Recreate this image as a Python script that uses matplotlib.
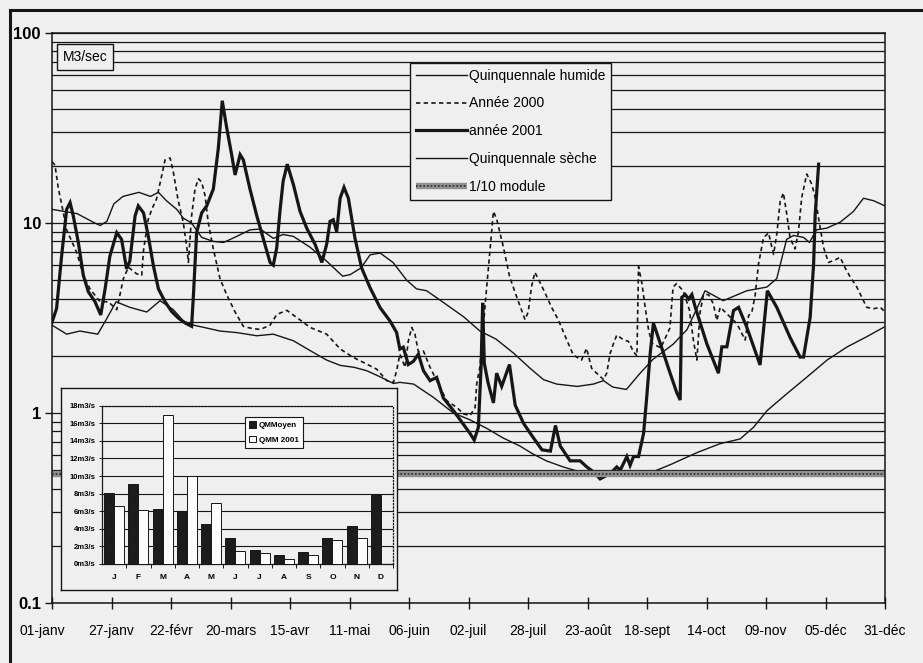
import matplotlib.pyplot as plt
from matplotlib.lines import Line2D
from matplotlib.legend_handler import HandlerTuple
from matplotlib.ticker import LogLocator, NullFormatter
from matplotlib.transforms import ScaledTranslation

plt.rcParams['font.family'] = ['Liberation Sans', 'DejaVu Sans']

PAPER = '#efefef'
INK = '#161616'

# axe des dates (jour de l'annee)
date_pos = [0, 26, 52, 78, 104, 130, 156, 182, 208, 234, 260, 286, 312, 338, 364]
date_labels = ['01-janv', '27-janv', '22-févr', '20-mars', '15-avr', '11-mai', '06-juin',
               '02-juil', '28-juil', '23-août', '18-sept', '14-oct', '09-nov', '05-déc', '31-déc']

# Quinquennale humide
hum_j = [0, 11, 18, 21, 24, 27, 31, 38, 43, 46.5, 50, 54.5, 57.4, 61, 65.4, 70.5, 75, 80.7,
         86.5, 91, 96.7, 101, 105.5, 112.8, 120, 127, 130.3, 135, 139, 143.4, 149, 155, 159.3,
         163.7, 168, 174, 180, 187, 194, 201.6, 208.9, 214.7, 220.5, 229.5, 236.6, 241, 245,
         251, 257, 262.7, 271.4, 277.5, 285.4, 293.3, 303.6, 312.4, 316.7, 321, 324, 328.4,
         331, 334, 338.6, 344.4, 350.2, 354.6, 359, 364]
hum_q = [11.8, 11.2, 10.1, 9.7, 10.2, 12.6, 13.8, 14.5, 13.8, 14.5, 13.1, 11.8, 10.6, 10.0, 8.4, 8.0, 7.9, 8.5,
         9.2, 9.3, 8.3, 8.7, 8.5, 7.45, 6.3, 5.25, 5.35, 5.8, 6.8, 6.95, 6.2, 5.0, 4.5,
         4.4, 4.05, 3.6, 3.2, 2.7, 2.45, 2.07, 1.72, 1.5, 1.42, 1.38, 1.42, 1.48, 1.37,
         1.33, 1.62, 1.92, 2.3, 2.75, 4.4, 3.9, 4.4, 4.6, 5.1, 8.2, 8.6, 8.4,
         7.9, 9.2, 9.4, 10.1, 11.5, 13.5, 13.1, 12.3]

# Quinquennale seche
sec_j = [0, 6.4, 12.2, 20, 24, 28, 34, 41.4, 47.2, 53, 57.4, 61.8, 67.6, 73.4, 80.7, 89.5,
         96.7, 105.5, 112.8, 120, 126, 132, 137.5, 143.4, 149.2, 152, 158, 166.6, 175.4,
         182.7, 190, 197, 204.5, 210, 216, 223.4, 230.7, 236.6, 241, 246.8, 252.6, 258.5,
         264.3, 271, 282, 292, 300.7, 306.5, 312.5, 321, 330, 338.7, 347.5, 356, 364]
sec_q = [2.9, 2.6, 2.7, 2.6, 3.15, 3.85, 3.6, 3.4, 3.9, 3.5, 3.05, 2.9, 2.8, 2.7, 2.65, 2.55,
         2.6, 2.4, 2.13, 1.9, 1.78, 1.74, 1.67, 1.55, 1.43, 1.45, 1.42, 1.21, 1.0,
         0.92, 0.83, 0.74, 0.67, 0.61, 0.56, 0.52, 0.49, 0.475, 0.465, 0.475, 0.465, 0.475,
         0.5, 0.54, 0.62, 0.69, 0.73, 0.84, 1.03, 1.26, 1.55, 1.9, 2.23, 2.52, 2.85]

# Annee 2000
a00_j = [0, 1.3, 2.8, 4.2, 6.4, 10.8, 13.7, 16.6, 21, 24.6, 28.3, 29.7, 31.2, 33.4, 37, 39.2,
         40, 42, 43.6, 45.7, 48, 49.4, 51.6, 53, 55, 57.4, 59, 59.6, 61, 62.5, 64, 65.4,
         66.9, 68.3, 70.5, 73.4, 76.3, 80, 83.6, 86.5, 91, 95.3, 98.2, 102.6, 107, 112.8,
         120, 126, 131.7, 137.5, 141.9, 146.3, 149.2, 150.6, 152, 154.3, 155.7, 157.2,
         158.6, 160.1, 162.3, 165.2, 168.1, 172.5, 176.9, 179.8, 182.7, 184.9, 185.6, 187,
         189.5, 192.9, 194.3, 197.2, 200, 203, 206.7, 208.1, 209.5, 211, 212.4, 215.4,
         218.3, 221.2, 224.9, 227.8, 231.4, 233.6, 235.8, 238, 241, 242.4, 243.9, 245.4,
         246.8, 249.7, 251.9, 254.1, 255.6, 256.3, 257.8, 259.2, 260.7, 262.2, 266, 270,
         271.4, 272.9, 275.8, 278.5, 280.3, 281.8, 283.2, 284.7, 286.9, 289, 290.5, 292,
         294.9, 299.3, 302.9, 304.4, 305.8, 307.3, 308.7, 310.9, 313.1, 315.3, 316.7,
         318.2, 319.6, 321.1, 322.5, 324.7, 326.2, 327.6, 329.8, 332, 333.5, 335.7, 337.2,
         339.3, 342.3, 344.4, 346.6, 348.8, 351.7, 356, 359, 362, 364]
a00_q = [21, 20.2, 15.1, 12.6, 9.2, 7.0, 5.3, 4.5, 3.85, 3.85, 3.5, 4.2, 5.1, 5.85, 5.4, 5.3,
         7.2, 10.4, 11.8, 13.4, 17.9, 21.5, 22, 18.6, 13.4, 10, 7.3, 6.2, 10.9, 15.1, 17.1, 16.4,
         13.9, 10, 7.3, 5.1, 4.2, 3.4, 2.86, 2.8, 2.75, 2.9, 3.3, 3.47, 3.18, 2.82,
         2.6, 2.17, 1.96, 1.81, 1.7, 1.48, 1.45, 1.67, 2.04, 1.74, 2.39, 2.82,
         2.6, 2.1, 2.12, 1.74, 1.48, 1.16, 1.07, 0.99, 0.97, 1.07, 1.43, 1.75,
         4.0, 11.5, 10.5, 7.5, 5.2, 4.1, 3.1, 3.4, 4.6, 5.5, 5.1, 4.3,
         3.6, 3.1, 2.43, 2.02, 1.9, 2.19, 1.72, 1.62, 1.5, 1.62, 2.06, 2.33,
         2.57, 2.43, 2.38, 2.1, 2.0, 5.9, 4.8, 3.6, 2.73, 2.33, 2.2, 2.8,
         4.6, 4.8, 4.4, 3.5, 2.4, 1.9, 3.4, 4.2, 4.2, 3.75, 3.07, 3.6,
         3.33, 2.95, 2.42, 3.26, 3.38, 4.2, 6.06, 8.35, 8.87, 6.84, 8.7,
         13.0, 14.4, 11.1, 8.35, 7.3, 9.05, 13.6, 18.1, 16, 13.6, 9.4, 7.4,
         6.2, 6.4, 6.6, 5.8, 5.2, 4.6, 3.6, 3.54, 3.6, 3.4]

# annee 2001
a01_j = [0, 2, 4.2, 6.4, 7.9, 9.3, 11.5, 13.7, 15.9, 18.8, 21.3, 23.2, 25.3, 28.3, 30.4, 32.6,
         34, 36.3, 37.7, 40, 42.1, 44.3, 46.5, 49.4, 52.3, 55.2, 58.1, 61, 61.8, 63.2, 65.4,
         67.6, 70.5, 72.7, 74.4, 76.3, 78.5, 80, 82.2, 83.6, 86.5, 89.5, 92.4, 95.3, 96.7,
         98.2, 99.6, 101, 102.8, 105.5, 108.4, 111.3, 115, 117.9, 120, 121.5, 122.9, 124.4,
         125.9, 127.6, 129.5, 132.4, 135.3, 139, 143.4, 147.7, 150.6, 152, 153.5, 155.7,
         157.9, 160.1, 162.3, 165.2, 168.1, 171, 175.4, 179.8, 182.7, 184.5, 186.3, 187.5,
         188.2, 188.9, 190.5, 192.9, 194.3, 196.5, 199.9, 202.4, 206.1, 209.7, 214.1, 217.8,
         220, 222.1, 226.4, 230.8, 233.7, 236.6, 239.5, 243.9, 246.8, 248.3, 251.2, 252.6,
         254.1, 256.3, 258.5, 259.9, 261.4, 262.8, 264.3, 267.2, 270.1, 273, 274.5, 275.2,
         276.7, 278.2, 279.6, 281.1, 286.1, 291.2, 292.7, 294.9, 297.8, 300, 303.6, 309.4,
         312.6, 316.7, 322.5, 326.9, 328.4, 331.3, 332.8, 333.5, 335]
a01_q = [3.0, 3.55, 6.7, 11.8, 12.8, 10.9, 7.9, 5.3, 4.34, 3.85, 3.28, 4.5, 6.7, 8.9, 8.2, 5.73,
         6.3, 10.9, 12.3, 11.3, 8.5, 5.96, 4.5, 3.85, 3.42, 3.16, 2.98, 2.86, 4.17, 8.9, 11.3,
         12.3, 15.1, 24.9, 44, 31.9, 22.9, 17.9, 22.9, 21.5, 15.1, 10.9, 8.2, 6.2, 6.0,
         7.4, 11.5, 16.6, 20.4, 15.9, 11.5, 9.4, 7.7, 6.2, 7.7, 10.2, 10.4, 9.0,
         13.5, 15.4, 13.5, 8.3, 5.8, 4.56, 3.58, 3.05, 2.65, 2.17, 2.22, 1.8,
         1.87, 2.04, 1.67, 1.48, 1.54, 1.2, 1.03, 0.87, 0.78, 0.72, 0.84, 1.75,
         3.8, 1.83, 1.45, 1.13, 1.62, 1.38, 1.8, 1.1, 0.88, 0.76, 0.64, 0.63,
         0.86, 0.67, 0.56, 0.56, 0.52, 0.49, 0.45, 0.48, 0.52, 0.5, 0.59, 0.53,
         0.59, 0.59, 0.78, 1.22, 2.06, 2.97, 2.63, 2.06, 1.62, 1.28, 1.17, 4.06,
         4.2, 3.98, 4.2, 3.6, 2.32, 1.62, 2.23, 2.23, 3.46, 3.6, 2.83, 1.79,
         4.4, 3.6, 2.5, 1.97, 1.97, 3.19, 6.06, 11.1, 20.4]

module_dixieme = 0.48

# histogramme des debits mensuels (m3/s)
mois = ['J', 'F', 'M', 'A', 'M', 'J', 'J', 'A', 'S', 'O', 'N', 'D']
qmm_moyen = [8.1, 9.1, 6.3, 6.0, 4.5, 2.9, 1.55, 1.05, 1.35, 2.95, 4.35, 7.8]
qmm_2001 = [6.55, 6.1, 16.9, 10.0, 6.95, 1.5, 1.25, 0.6, 1.0, 2.75, 2.95, 0.0]

W, H = 923, 663
fig = plt.figure(figsize=(W / 100, H / 100), dpi=100, facecolor=PAPER)

ax = fig.add_axes([52 / W, 1 - 603 / H, 833 / W, 570 / H])
ax.set_facecolor(PAPER)
ax.set_yscale('log')
ax.set_ylim(0.1, 100)
ax.set_xlim(0, 364)

l_hum, = ax.plot(hum_j, hum_q, color=INK, lw=1.0)
l_00, = ax.plot(a00_j, a00_q, color=INK, lw=1.2, ls=(0, (2.6, 2)))
l_01, = ax.plot(a01_j, a01_q, color=INK, lw=2.3, solid_joinstyle='miter')
l_sec, = ax.plot(sec_j, sec_q, color=INK, lw=1.0)
l_mod_a, = ax.plot([0, 364], [module_dixieme] * 2, color='#8f8f8f', lw=4.6, solid_capstyle='butt')
l_mod_b, = ax.plot([0, 364], [module_dixieme] * 2, color='#2a2a2a', lw=1.2, ls=(0, (1, 1.2)))

ax.set_yticks([0.1, 1, 10, 100])
ax.set_yticklabels(['0.1', '1', '10', '100'], fontweight='bold', fontsize=12)
ax.yaxis.set_minor_locator(LogLocator(base=10, subs=range(2, 10)))
ax.yaxis.set_minor_formatter(NullFormatter())
ax.grid(axis='y', which='both', color=INK, lw=0.9)
ax.tick_params(axis='y', which='major', length=5, width=1, color=INK, pad=3)
ax.tick_params(axis='y', which='minor', length=0)
ax.set_xticks(date_pos, date_labels, fontsize=10)
ax.tick_params(axis='x', direction='inout', length=8, width=1, color=INK, pad=11)
first = ax.get_xticklabels()[0]
first.set_transform(first.get_transform() + ScaledTranslation(-10 / 100, 0, fig.dpi_scale_trans))
for s in ax.spines.values():
    s.set_color(INK)
    s.set_linewidth(1.1)

leg = ax.legend([l_hum, l_00, l_01, l_sec, (l_mod_a, l_mod_b)],
                ['Quinquennale humide', 'Année 2000', 'année 2001', 'Quinquennale sèche', '1/10 module'],
                handler_map={tuple: HandlerTuple(ndivide=1, pad=0)},
                loc='upper left', bbox_to_anchor=(410 / W, 1 - 63 / H), bbox_transform=fig.transFigure,
                borderaxespad=0, fontsize=10, handlelength=3.7, handletextpad=0.15,
                labelspacing=1.0, borderpad=0.4, fancybox=False, framealpha=1,
                facecolor=PAPER, edgecolor=INK)
leg.get_frame().set_linewidth(1.0)

fig.text(63 / W, 1 - 57 / H, 'M3/sec', fontsize=10, va='center', ha='left',
         bbox=dict(boxstyle='square,pad=0.4', fc=PAPER, ec=INK, lw=1.0))

# cadre de l'histogramme
box = fig.add_axes([61 / W, 1 - 590 / H, 336 / W, 202 / H], zorder=3)
box.set_facecolor(PAPER)
box.set_xticks([])
box.set_yticks([])
for s in box.spines.values():
    s.set_color(INK)
    s.set_linewidth(1.0)

ins = fig.add_axes([102 / W, 1 - 564 / H, 291 / W, 158.3 / H], zorder=4)
ins.set_facecolor('none')
xs = range(len(mois))
ins.bar([x - 0.205 for x in xs], qmm_moyen, width=0.41, color='#1c1c1c', edgecolor=INK, lw=0.7,
        label='QMMoyen', zorder=3)
ins.bar([x + 0.205 for x in xs], qmm_2001, width=0.41, color='#fbfbfb', edgecolor=INK, lw=0.7,
        label='QMM 2001', zorder=3)
ins.set_xlim(-0.5, 11.5)
ins.set_ylim(0, 18)
ins.set_yticks(range(0, 19, 2))
ins.set_yticklabels([f'{v}m3/s' for v in range(0, 19, 2)], fontsize=5.5, fontweight='bold')
ins.set_xticks(list(xs), mois, fontsize=6, fontweight='bold')
ins.set_xticks([x + 0.5 for x in xs], minor=True)
ins.tick_params(axis='x', which='major', length=0, pad=7)
ins.tick_params(axis='x', which='minor', length=3, width=0.7, color=INK)
ins.tick_params(axis='y', length=2.5, width=0.7, color=INK, pad=2)
ins.grid(axis='y', color=INK, lw=0.8, zorder=1)
ins.set_axisbelow(True)
for side in ['top', 'right']:
    ins.spines[side].set_linestyle(':')
    ins.spines[side].set_linewidth(0.9)
for side in ['left', 'bottom']:
    ins.spines[side].set_linewidth(0.9)
for s in ins.spines.values():
    s.set_color(INK)
ileg = ins.legend(loc='upper left', bbox_to_anchor=(245 / W, 1 - 417 / H), bbox_transform=fig.transFigure,
                  borderaxespad=0, prop={'size': 5.8, 'weight': 'bold'}, handlelength=0.9,
                  handleheight=0.9, handletextpad=0.3, labelspacing=0.8, borderpad=0.5,
                  fancybox=False, framealpha=1, facecolor='#fbfbfb', edgecolor=INK)
ileg.get_frame().set_linewidth(0.8)

# bordure de la page scannee
fig.add_artist(Line2D([10 / W, 1], [1 - 10 / H] * 2, transform=fig.transFigure, color=INK, lw=2.2))
fig.add_artist(Line2D([10 / W] * 2, [0, 1 - 10 / H], transform=fig.transFigure, color=INK, lw=2.2))

fig.savefig('out.png', dpi=100, facecolor=PAPER)
